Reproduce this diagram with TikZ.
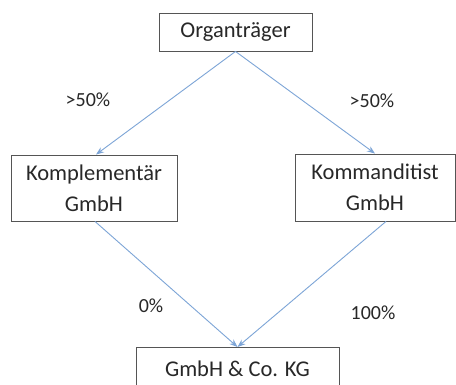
\documentclass[tikz,border=0pt]{standalone}
\usepackage{fontspec}
\setmainfont{Carlito}
\usetikzlibrary{arrows.meta,calc}
\definecolor{boxline}{RGB}{85,85,85}
\definecolor{linkblue}{RGB}{125,165,215}
\definecolor{txt}{RGB}{40,40,40}
\begin{document}
\begin{tikzpicture}[x=1pt,y=-1pt,
  entity/.style={draw=boxline,line width=0.9pt,fill=white,inner sep=0pt,align=center,text=txt,
    font=\fontsize{22.5}{31}\selectfont},
  link/.style={draw=linkblue,line width=0.9pt,-{Stealth[length=8pt,width=6pt]}},
  share/.style={text=txt,font=\fontsize{20}{24}\selectfont,inner sep=0pt}]
\useasboundingbox (0,0) rectangle (456,385);
\clip (0,0) rectangle (456,385);
\fill[white] (0,0) rectangle (456,385);
\node[entity,minimum width=153pt,minimum height=38pt] (org) at (235.5,32) {Organträger};
\node[entity,minimum width=166pt,minimum height=66pt] (komp) at (94,188) {Komplementär\\GmbH};
\node[entity,minimum width=160pt,minimum height=67pt] (komm) at (375,187.5) {Kommanditist\\GmbH};
\node[entity,minimum width=203pt,minimum height=42pt,anchor=north] (kg) at (237.5,347) {GmbH \& Co. KG};
\path (kg.north) ++(0,20) coordinate (kgtext);
\draw[link] (org.south) -- ($(komp.north)+(2,0)$);
\draw[link] (org.south) -- (komm.north);
\draw[link] ($(komp.south)+(1,0)$) -- (kg.north);
\draw[link] ($(komm.south)+(11,0)$) -- (kg.north);
\node[share] (l1) at (88,100) {>50\%};
\node[share] (l2) at (372,101) {>50\%};
\node[share] (l3) at (151,306) {0\%};
\node[share] (l4) at (373,313) {100\%};
\end{tikzpicture}
\end{document}
